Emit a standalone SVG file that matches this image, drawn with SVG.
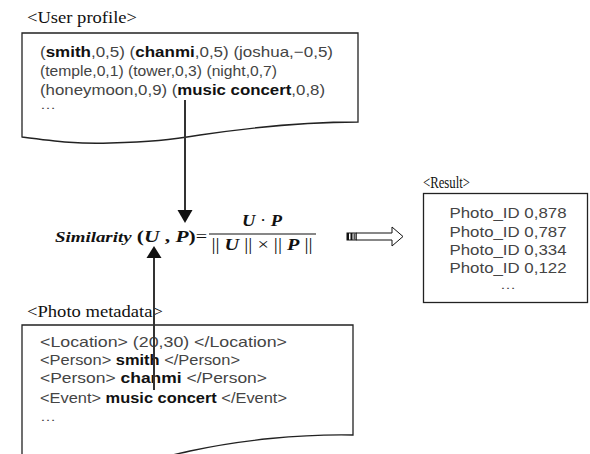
<svg xmlns="http://www.w3.org/2000/svg" width="590" height="454" viewBox="0 0 590 454">
<style>
.doc{fill:#fff;stroke:#222;stroke-width:1.3}
.lbl{font-family:"Liberation Serif",serif;font-size:16px;fill:#111}
.t{font-family:"Liberation Sans",Arial,sans-serif;font-size:15px;fill:#444}
.d{font-family:"Liberation Sans",Arial,sans-serif;font-size:11px;fill:#444}
.b{font-weight:bold;fill:#111}
.f{font-family:"Liberation Serif",serif;fill:#111}
.conn{stroke:#333;stroke-width:2;fill:none}
.head{fill:#111}
</style>
<rect width="590" height="454" fill="#fff"/>
<g id="user-profile">
<text class="lbl" x="27" y="23" textLength="110" lengthAdjust="spacingAndGlyphs">&lt;User profile&gt;</text>
<path class="doc" d="M22,33 H358 V122 C320,122 260,126 200,135 C170,140 150,142 110,143 C80,144 60,142 22,137 Z"/>
<text class="t" x="40" y="57" textLength="293" lengthAdjust="spacingAndGlyphs">(<tspan class="b">smith</tspan>,0,5) (<tspan class="b">chanmi</tspan>,0,5) (joshua,−0,5)</text>
<text class="t" x="40" y="76" textLength="237" lengthAdjust="spacingAndGlyphs">(temple,0,1) (tower,0,3) (night,0,7)</text>
<text class="t" x="40" y="95" textLength="285" lengthAdjust="spacingAndGlyphs">(honeymoon,0,9) (<tspan class="b">music concert</tspan>,0,8)</text>
<text class="d" x="40" y="109" textLength="16" lengthAdjust="spacingAndGlyphs">…</text>
</g>
<g id="formula">
<text class="f" x="55" y="242" textLength="152" lengthAdjust="spacingAndGlyphs"><tspan font-weight="bold" font-style="italic" font-size="15">Similarity</tspan><tspan font-weight="bold" font-size="17"> (<tspan font-style="italic">U</tspan> , <tspan font-style="italic">P</tspan>)</tspan><tspan font-size="16">=</tspan></text>
<line x1="209" y1="234" x2="316" y2="234" stroke="#111" stroke-width="1.2"/>
<text class="f" x="262" y="226" text-anchor="middle" font-size="16" font-weight="bold" font-style="italic" textLength="40" lengthAdjust="spacingAndGlyphs">U <tspan font-style="normal" font-weight="normal">·</tspan> P</text>
<text class="f" x="262" y="250" text-anchor="middle" font-size="16" textLength="101" lengthAdjust="spacingAndGlyphs">|| <tspan font-weight="bold" font-style="italic">U</tspan> || × || <tspan font-weight="bold" font-style="italic">P</tspan> ||</text>
</g>
<g id="result">
<text class="lbl" x="423" y="188" textLength="47" lengthAdjust="spacingAndGlyphs">&lt;Result&gt;</text>
<rect class="doc" x="423.5" y="193.5" width="164" height="109"/>
<text class="t" x="508" y="218" text-anchor="middle" textLength="117" lengthAdjust="spacingAndGlyphs">Photo_ID 0,878</text>
<text class="t" x="508" y="237" text-anchor="middle" textLength="117" lengthAdjust="spacingAndGlyphs">Photo_ID 0,787</text>
<text class="t" x="508" y="255" text-anchor="middle" textLength="117" lengthAdjust="spacingAndGlyphs">Photo_ID 0,334</text>
<text class="t" x="508" y="273" text-anchor="middle" textLength="117" lengthAdjust="spacingAndGlyphs">Photo_ID 0,122</text>
<text class="d" x="508" y="289" text-anchor="middle" textLength="16" lengthAdjust="spacingAndGlyphs">…</text>
</g>
<g id="photo-metadata">
<text class="lbl" x="27" y="317" textLength="136" lengthAdjust="spacingAndGlyphs">&lt;Photo metadata&gt;</text>
<path class="doc" d="M22,480 V325 H353 V435 C300,434 240,440 190,451 C160,458 130,464 100,470 L22,480 Z"/>
<text class="t" x="40" y="347" textLength="247" lengthAdjust="spacingAndGlyphs">&lt;Location&gt; (20,30) &lt;/Location&gt;</text>
<text class="t" x="40" y="365" textLength="200" lengthAdjust="spacingAndGlyphs">&lt;Person&gt; <tspan class="b">smith</tspan> &lt;/Person&gt;</text>
<text class="t" x="40" y="383" textLength="227" lengthAdjust="spacingAndGlyphs">&lt;Person&gt; <tspan class="b">chanmi</tspan> &lt;/Person&gt;</text>
<text class="t" x="40" y="403" textLength="247" lengthAdjust="spacingAndGlyphs">&lt;Event&gt; <tspan class="b">music concert</tspan> &lt;/Event&gt;</text>
<text class="d" x="40" y="421" textLength="16" lengthAdjust="spacingAndGlyphs">…</text>
</g>
<g id="connectors">
<line class="conn" x1="185" y1="100" x2="185" y2="211"/>
<polygon class="head" points="177.5,210 192.5,210 185,223"/>
<line class="conn" x1="154" y1="390" x2="154" y2="257"/>
<polygon class="head" points="146.5,258 161.5,258 154,246"/>
<polygon points="356,233 392,233 392,227 403,236.5 392,246 392,240 356,240" fill="#fff" stroke="#111" stroke-width="1"/>
<rect x="347" y="233" width="9" height="7" fill="#fff" stroke="#111" stroke-width="1"/>
<rect x="347" y="233" width="2" height="7" fill="#111"/>
<rect x="350.5" y="233" width="2" height="7" fill="#111"/>
<rect x="353.5" y="233" width="1.5" height="7" fill="#555"/>
</g>
</svg>
